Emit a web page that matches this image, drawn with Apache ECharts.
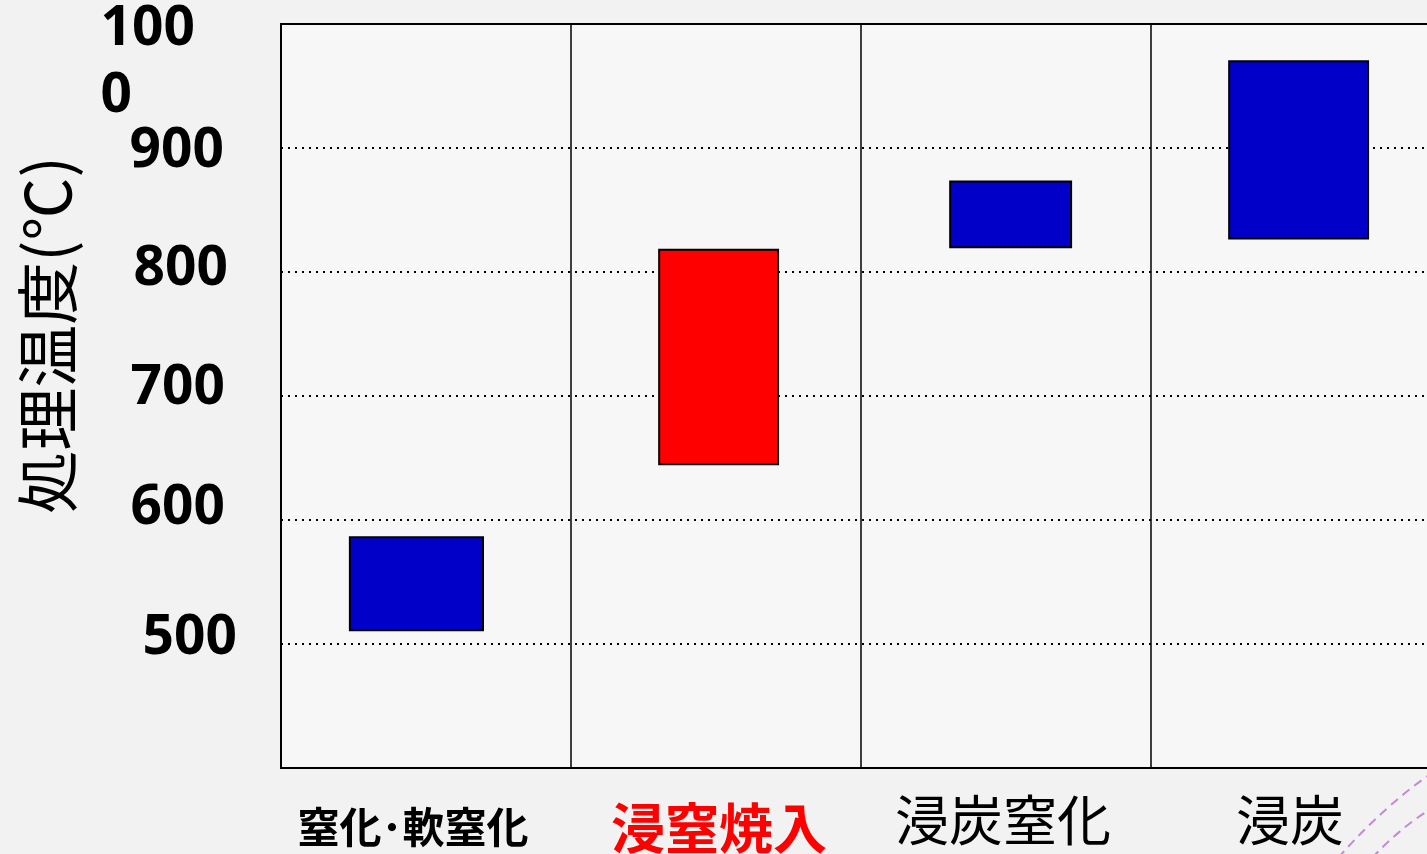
<!DOCTYPE html>
<html>
<head>
<meta charset="utf-8">
<script src="https://cdn.jsdelivr.net/npm/echarts@6/dist/echarts.min.js"></script>
<style>
html,body{margin:0;padding:0;background:#f1f2f1;}
#c{width:1427px;height:854px;}
</style>
</head>
<body>
<div id="c"></div>
<script>
// ---- data ----
var categories = ['窒化･軟窒化', '浸窒焼入', '浸炭窒化', '浸炭'];
var lowTemps  = [511, 645, 820, 827];
var highTemps = [586, 818, 873, 970];
var yTicks = [400, 500, 600, 700, 800, 900, 1000];

// ---- styling (not data) ----
var barColors = ['#0000c8', '#ff0000', '#0000c8', '#0000c8'];
var barWidthFrac = [0.459, 0.41, 0.417, 0.479];
var barOffsetFrac = [-0.033, 0.009, 0.016, 0.009];
var catTags = ['c0', 'c1', 'c2', 'c3'];
var yTags = {500: 'r500', 600: 'r600', 700: 'r700', 800: 'r800', 900: 'r900'};

var chart = echarts.init(document.getElementById('c'));
var cjk = '"Noto Sans CJK JP", "Noto Sans", sans-serif';
var num = '"Noto Sans", sans-serif';
var yMin = yTicks[0], yMax = yTicks[yTicks.length - 1];

var option = {
  backgroundColor: '#f1f2f1',
  animation: false,
  grid: {
    left: 281, top: 24, width: 1160, height: 744,
    containLabel: false,
    outerBoundsMode: 'none',
    show: true, backgroundColor: '#f7f7f7', borderColor: '#000', borderWidth: 2
  },
  xAxis: {
    type: 'category',
    data: categories,
    boundaryGap: true,
    axisLine: { show: true, lineStyle: { color: '#000', width: 2 } },
    axisTick: { show: false },
    splitLine: { show: true, lineStyle: { color: '#000', width: 1.5, type: 'solid' } },
    axisLabel: {
      interval: 0,
      margin: 20,
      verticalAlign: 'top',
      fontFamily: cjk,
      formatter: function (v, i) { return '{' + catTags[i] + '|' + v + '}'; },
      rich: {
        c0: { fontSize: 42, fontWeight: 'bold', color: '#000', fontFamily: cjk, lineHeight: 78, padding: [0, 26, 0, 0] },
        c1: { fontSize: 54, fontWeight: 'bold', color: '#ff0000', fontFamily: cjk, lineHeight: 80, padding: [0, 0, 0, 6] },
        c2: { fontSize: 54, fontWeight: 'normal', color: '#000', fontFamily: cjk, lineHeight: 64, padding: [0, 6, 0, 0] },
        c3: { fontSize: 54, fontWeight: 'normal', color: '#000', fontFamily: cjk, lineHeight: 64, padding: [0, 12, 0, 0] }
      }
    }
  },
  yAxis: [{
    type: 'value',
    min: yMin,
    max: yMax,
    interval: 100,
    name: '処理温度(℃)',
    nameLocation: 'middle',
    nameRotate: 90,
    nameGap: 202,
    nameTextStyle: { fontFamily: cjk, fontSize: 63, color: '#000', fontWeight: 'normal', padding: [0, 0, 0, 122] },
    axisLine: { show: true, lineStyle: { color: '#000', width: 2 } },
    axisTick: { show: false },
    splitLine: { show: true, lineStyle: { color: '#000', width: 2, type: [2, 5] } },
    axisLabel: {
      showMaxLabel: false,
      showMinLabel: false,
      hideOverlap: false,
      margin: 44,
      fontFamily: num,
      fontWeight: 'bold',
      fontSize: 55,
      color: '#000',
      formatter: function (v) {
        return yTags[v] ? '{' + yTags[v] + '|' + v + '}' : '';
      },
      rich: {
        r900: { fontSize: 55, fontWeight: 'bold', fontFamily: num, lineHeight: 50, padding: [6, 13, 0, 0] },
        r800: { fontSize: 55, fontWeight: 'bold', fontFamily: num, lineHeight: 50, padding: [0, 9, 6, 0] },
        r700: { fontSize: 55, fontWeight: 'bold', fontFamily: num, lineHeight: 50, padding: [0, 12, 16, 0] },
        r600: { fontSize: 55, fontWeight: 'bold', fontFamily: num, lineHeight: 50, padding: [0, 12, 24, 0] },
        r500: { fontSize: 55, fontWeight: 'bold', fontFamily: num, lineHeight: 50, padding: [0, 0, 12, 0] }
      }
    }
  }, {
    // second axis only carries the wrapped top label (1000)
    type: 'value',
    position: 'left',
    offset: 0,
    min: yMin,
    max: yMax,
    interval: yMax - yMin,
    axisLine: { show: false },
    axisTick: { show: false },
    splitLine: { show: false },
    axisLabel: {
      showMaxLabel: true,
      showMinLabel: false,
      margin: 44,
      fontFamily: num,
      fontWeight: 'bold',
      fontSize: 55,
      color: '#000',
      formatter: function (v) {
        if (v !== yMax) return '';
        var s = String(v);
        return '{e| }\n{t1|' + s.slice(0, 3) + '}\n{t2|' + s.slice(3) + '}';
      },
      rich: {
        e: { fontSize: 8, lineHeight: 12 },
        t1: { fontSize: 55, fontWeight: 'bold', fontFamily: num, lineHeight: 132, padding: [0, 42, 0, 0] },
        t2: { fontSize: 55, fontWeight: 'bold', fontFamily: num, lineHeight: 2, align: 'left' }
      }
    }
  }],
  series: [{
    type: 'custom',
    yAxisIndex: 0,
    data: categories.map(function (c, i) { return [i, lowTemps[i], highTemps[i]]; }),
    encode: { x: 0, y: [1, 2] },
    renderItem: function (params, api) {
      var idx = api.value(0);
      var lo = api.coord([idx, api.value(1)]);
      var hi = api.coord([idx, api.value(2)]);
      var band = api.size([1, 0])[0];
      var w = band * barWidthFrac[idx];
      var cx = lo[0] + band * barOffsetFrac[idx];
      return {
        type: 'rect',
        shape: { x: cx - w / 2, y: hi[1], width: w, height: lo[1] - hi[1] },
        style: { fill: barColors[idx], stroke: '#000', lineWidth: 2 }
      };
    }
  }],
  graphic: [
    { type: 'bezierCurve', silent: true, z: 100,
      shape: { x1: 1338, y1: 858, cpx1: 1385, cpy1: 805, x2: 1432, y2: 773 },
      style: { stroke: '#c38ad9', lineWidth: 2, lineDash: [9, 6], fill: null } },
    { type: 'bezierCurve', silent: true, z: 100,
      shape: { x1: 1372, y1: 858, cpx1: 1400, cpy1: 828, x2: 1432, y2: 808 },
      style: { stroke: '#c38ad9', lineWidth: 2, lineDash: [9, 6], fill: null } }
  ]
};
chart.setOption(option);
</script>
</body>
</html>
